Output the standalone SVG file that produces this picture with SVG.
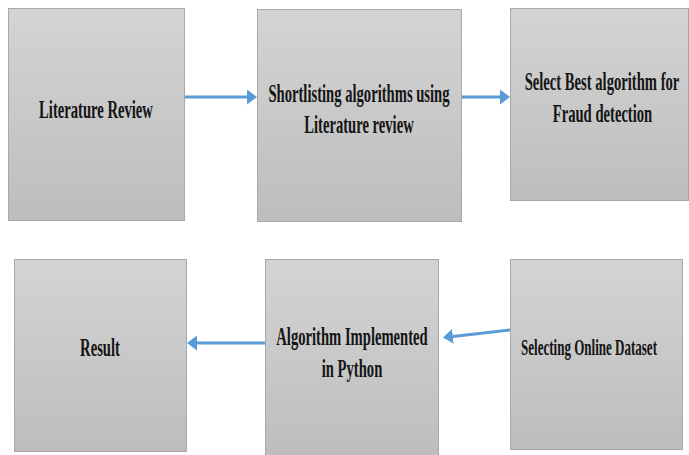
<svg xmlns="http://www.w3.org/2000/svg" width="689" height="455" viewBox="0 0 689 455">
  <style>
    .box { fill: url(#boxFill); stroke: #a8a8a8; stroke-width: 1; }
    .lbl { font-family: "Liberation Serif", "Times New Roman", serif; font-weight: bold; font-size: 25px; fill: #141414; text-anchor: middle; }
    .small { font-size: 22.5px; text-anchor: start; }
    .conn { stroke: #5b9bd5; stroke-width: 3; fill: none; marker-end: url(#head); }
  </style>
  <defs>
    <linearGradient id="boxFill" x1="0" y1="0" x2="0" y2="1">
      <stop offset="0" stop-color="#d4d4d4"/>
      <stop offset="1" stop-color="#bdbdbd"/>
    </linearGradient>
    <marker id="head" markerUnits="userSpaceOnUse" markerWidth="10" markerHeight="15" refX="0" refY="7.5" orient="auto">
      <path d="M0,0 L10,7.5 L0,15 z" fill="#5b9bd5"/>
    </marker>
  </defs>

  <rect width="689" height="455" fill="#ffffff"/>

  <!-- labels use a condensed serif: glyphs squeezed horizontally -->
  <g id="literature-review">
    <rect class="box" x="8.5" y="8.5" width="176" height="212"/>
    <text class="lbl" transform="translate(96 118) scale(0.585 1)">Literature Review</text>
  </g>

  <g id="shortlisting">
    <rect class="box" x="257.5" y="9.5" width="204" height="212"/>
    <text class="lbl" transform="translate(359 102) scale(0.585 1)">Shortlisting algorithms using</text>
    <text class="lbl" transform="translate(359 133) scale(0.585 1)">Literature review</text>
  </g>

  <g id="select-best">
    <rect class="box" x="510.5" y="8.5" width="178" height="192"/>
    <text class="lbl" transform="translate(602 90) scale(0.585 1)">Select Best algorithm for</text>
    <text class="lbl" transform="translate(602.5 122) scale(0.585 1)">Fraud detection</text>
  </g>

  <g id="result">
    <rect class="box" x="14.5" y="259.5" width="172" height="192"/>
    <text class="lbl" transform="translate(100 356) scale(0.585 1)">Result</text>
  </g>

  <g id="algorithm-implemented">
    <rect class="box" x="265.5" y="259.5" width="173" height="200"/>
    <text class="lbl" transform="translate(352 345) scale(0.585 1)">Algorithm Implemented</text>
    <text class="lbl" transform="translate(352 377) scale(0.585 1)">in Python</text>
  </g>

  <g id="online-dataset">
    <rect class="box" x="510.5" y="259.5" width="172" height="190"/>
    <text class="lbl small" transform="translate(521 355) scale(0.579 1)">Selecting Online Dataset</text>
  </g>

  <g id="connectors">
    <line class="conn" x1="185" y1="97" x2="247" y2="97"/>
    <line class="conn" x1="462" y1="97" x2="500" y2="97"/>
    <line class="conn" x1="510" y1="330" x2="452.9" y2="336.4"/>
    <line class="conn" x1="265" y1="343" x2="197" y2="343"/>
  </g>
</svg>
